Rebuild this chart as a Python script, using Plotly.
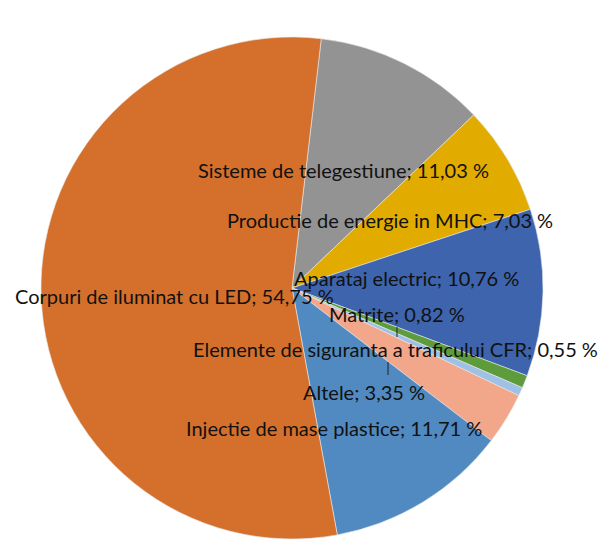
import plotly.graph_objects as go

# ---- data (clockwise from the top) ----
labels = [
    "Sisteme de telegestiune",
    "Productie de energie in MHC",
    "Aparataj electric",
    "Matrite",
    "Elemente de siguranta a traficului CFR",
    "Altele",
    "Injectie de mase plastice",
    "Corpuri de iluminat cu LED",
]
values = [11.03, 7.03, 10.76, 0.82, 0.55, 3.35, 11.71, 54.75]
value_text = ["11,03", "7,03", "10,76", "0,82", "0,55", "3,35", "11,71", "54,75"]

colors = ["#939393", "#E1AB00", "#3D64AD", "#5E9C3B", "#9FC1E5",
          "#F2A68A", "#508AC0", "#D4702C"]

W, H = 610, 558
OFF = 8  # page body margin offset in the browser
cx, cy, r = 292 - OFF, 288 - OFF, 251

fig = go.Figure(go.Pie(
    labels=labels,
    values=values,
    sort=False,
    direction="clockwise",
    rotation=6.7,
    marker=dict(colors=colors, line=dict(color="#E8E8E8", width=0.6)),
    textinfo="none",
    hoverinfo="label+percent",
    showlegend=False,
    domain=dict(x=[(cx - r) / W, (cx + r) / W], y=[1 - (cy + r) / H, 1 - (cy - r) / H]),
))

# label centres (pixels in the screenshot) — Excel-style data label placement
label_pos = [
    (343, 170),  # Sisteme
    (390, 220),  # Productie
    (406, 278),  # Aparataj
    (397, 314),  # Matrite
    (395, 349),  # Elemente
    (364, 392),  # Altele
    (334, 428),  # Injectie
    (174, 296),  # Corpuri
]
font = dict(family="Lato, Roboto, sans-serif", size=20, color="#111111")
for lab, vt, (px, py) in zip(labels, value_text, label_pos):
    fig.add_annotation(
        x=(px - OFF) / W, y=1 - (py - OFF) / H, xref="paper", yref="paper",
        text=f"{lab}; {vt} %", showarrow=False, font=font,
        xanchor="center", yanchor="middle",
    )

# small leader lines
for (x0, y0, y1) in [(397, 327, 337), (388, 362, 375)]:
    fig.add_shape(type="line", xref="paper", yref="paper",
                  x0=(x0 - OFF) / W, x1=(x0 - OFF) / W,
                  y0=1 - (y0 - OFF) / H, y1=1 - (y1 - OFF) / H,
                  line=dict(color="#222222", width=1))

fig.update_layout(
    width=W, height=H,
    margin=dict(l=0, r=0, t=0, b=0),
    paper_bgcolor="white",
    plot_bgcolor="white",
)

fig.write_html("out.html")
